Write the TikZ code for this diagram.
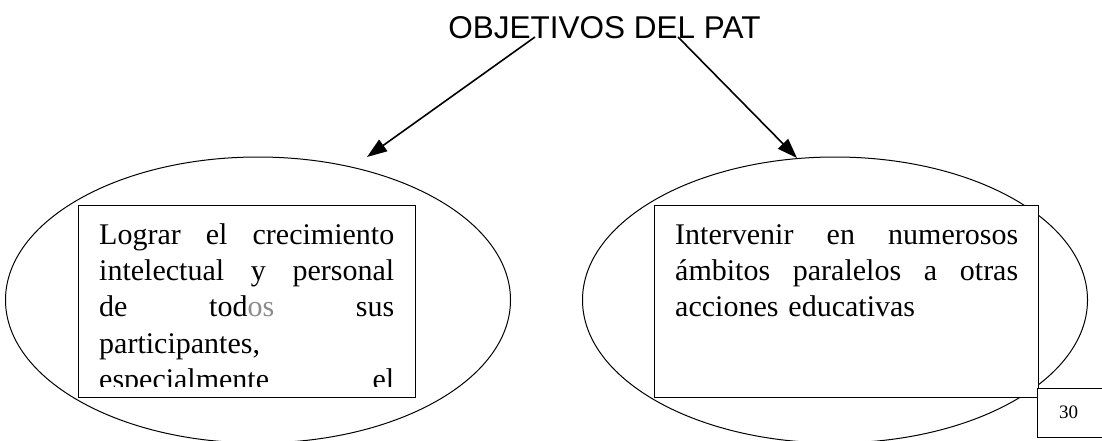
\documentclass[tikz,border=0pt]{standalone}
\usepackage{fontspec}
\setmainfont{Liberation Serif}
\newfontfamily\titlefont{Liberation Sans}
\usepackage{xcolor}
\usepackage{tikz}
\usetikzlibrary{positioning}
\usetikzlibrary{arrows.meta,shapes.geometric}
\usetikzlibrary{calc}
\tikzstyle{oval}=[ellipse,draw,line width=1pt,minimum width=505pt,minimum height=286pt,inner sep=0pt]
\tikzstyle{textbox}=[rectangle,draw,fill=white,line width=1.3pt,inner sep=0pt,anchor=north west]
\tikzstyle{edge} = [draw,line width=1.6pt,-{Triangle[length=20pt,width=14pt]}]
\tikzstyle{bodytext} = [anchor=north west,inner sep=0pt,align=left,font=\fontsize{30}{36.3}\selectfont]

\begin{document}
\begin{tikzpicture}[x=1pt,y=-1pt]

    \useasboundingbox (0,0) rectangle (1102,441);

    \def\wL{295pt};
    \def\wR{343pt};

    \node[anchor=base, inner sep=0pt, font=\titlefont\fontsize{31.5}{36}\selectfont] (title) at (604.5,39) {OBJETIVOS DEL PAT};

    \node[oval] (ovalL) at (258,300) {};
    \node[oval] (ovalR) at (835,300) {};

    \node[textbox, minimum width=337pt, minimum height=192pt] (boxL) at (78,205) {};
    \node[textbox, minimum width=384pt, minimum height=192pt] (boxR) at (654,205) {};

    % justified lines: words spread with \hfill
    \begin{scope}
        \clip (boxL.north west) rectangle (415,386);
        \node[bodytext, text width=\wL] (textL) at (99,218.6) {%
            \strut\makebox[\wL]{Lograr\hfill el\hfill crecimiento}\\
            \strut\makebox[\wL]{intelectual\hfill y\hfill personal}\\
            \strut\makebox[\wL]{de\hfill tod\textcolor{black!45}{os}\hfill sus}\\
            \strut participantes,\\
            \strut\makebox[\wL]{especialmente\hfill el}};
    \end{scope}

    \node[bodytext, text width=\wR] (textR) at (675,218.6) {%
        \strut\makebox[\wR]{Intervenir\hfill en\hfill numerosos}\\
        \strut\makebox[\wR]{ámbitos\hfill paralelos\hfill a\hfill otras}\\
        \strut acciones educativas};

    \node[textbox, minimum width=80pt, minimum height=49pt] (pagebox) at (1037,388) {};
    \node[anchor=base west, inner sep=0pt, font=\fontsize{19}{22}\selectfont] (pagenum) at (1059,418) {30};

    \coordinate (fromL) at (535,37);
    \coordinate (fromR) at (678,37);
    \coordinate (toL) at (367,157);
    \coordinate (toR) at (797,158);

    \foreach \source/\dest in {fromL/toL, fromR/toR}
        \path[edge] (\source) -- (\dest);

\end{tikzpicture}
\end{document}
